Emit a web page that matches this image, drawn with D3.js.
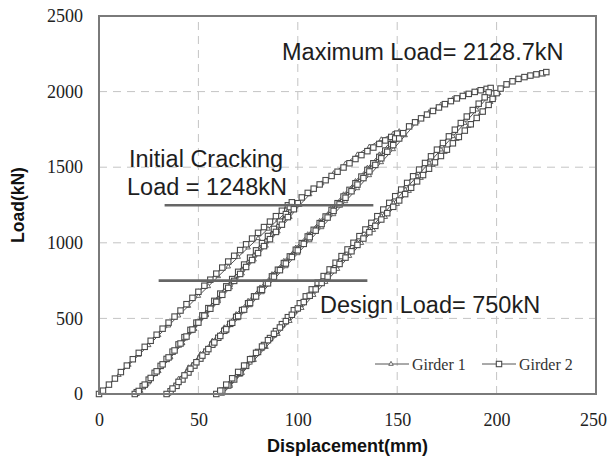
<!DOCTYPE html>
<html>
<head>
<meta charset="utf-8">
<script src="https://cdn.jsdelivr.net/npm/d3@7"></script>
<style>
  body { margin: 0; background: #fff; }
  svg { display: block; }
</style>
</head>
<body>
<script>
/* ---------------------- Data ---------------------- */
var xTicks = [0, 50, 100, 150, 200, 250];
var yTicks = [0, 500, 1000, 1500, 2000, 2500];

// Girder 2 (square markers): [displacement mm, load kN], cyclic loading path
var girder2 = [
  [0,0],[2,22],[5,62],[8,102],[11,145],[14,188],[17,230],[20,272],[23,312],[26,352],[29,392],[32,432],
  [35,472],[38,512],[41,552],[44,594],[47,636],[50,676],[53,716],[56,756],[59,796],[62,836],[65,876],
  [68,914],[71,952],[74,990],[77,1028],[80,1066],[83,1104],[86,1140],[89,1176],[92,1212],[95,1248],[97,1268],
  // unload 1
  [96,1236],[94,1190],[91,1140],[88,1092],[85,1045],[82,998],[79,950],[76,902],[73,856],[70,808],[67,760],
  [64,712],[61,664],[58,616],[55,568],[52,520],[49,472],[46,424],[43,376],[40,328],[37,280],[34,232],
  [31,186],[28,140],[25,95],[22,52],[19,12],[18,0],
  // reload 1
  [20,20],[23,62],[26,106],[29,150],[32,196],[35,242],[38,288],[41,334],[44,380],[47,426],[50,472],[53,518],
  [56,564],[59,610],[62,656],[65,702],[68,748],[71,794],[74,840],[77,886],[80,932],[83,978],[86,1024],
  [89,1072],[92,1120],[95,1170],[98,1222],[100,1262],[102,1300],[105,1330],[108,1358],[111,1386],[114,1414],
  [117,1442],[120,1470],[123,1498],[126,1526],[129,1554],[132,1580],[135,1606],[138,1630],[141,1654],
  [144,1677],[147,1700],[150,1722],
  // unload 2
  [149,1690],[147,1652],[144,1610],[141,1568],[138,1526],[135,1482],[132,1438],[129,1394],[126,1350],
  [123,1306],[120,1262],[117,1218],[114,1174],[111,1130],[108,1086],[105,1042],[102,998],[99,954],[96,910],
  [93,866],[90,822],[87,778],[84,734],[81,690],[78,646],[75,600],[72,555],[69,510],[66,464],[63,418],
  [60,372],[57,326],[54,280],[51,234],[48,188],[45,142],[42,96],[39,54],[36,18],[34,0],
  // reload 2
  [37,36],[40,80],[43,123],[46,167],[49,210],[52,254],[55,297],[58,341],[61,384],[64,428],[67,471],[70,515],
  [73,558],[76,602],[79,645],[82,689],[85,732],[88,776],[91,819],[94,863],[97,906],[100,950],[103,993],
  [106,1037],[109,1080],[112,1124],[115,1167],[118,1211],[121,1254],[124,1298],[127,1341],[130,1385],
  [133,1428],[136,1472],[139,1515],[142,1559],[145,1602],[148,1646],[151,1690],[153,1725],[156,1770],
  [159,1797],[162,1823],[165,1848],[168,1872],[171,1895],[174,1917],[177,1937],[180,1955],[183,1971],
  [186,1985],[189,1998],[192,2009],[195,2018],[197,2024],
  // unload 3
  [196,1995],[194,1962],[191,1920],[188,1878],[185,1835],[182,1792],[179,1748],[176,1704],[173,1660],
  [170,1616],[167,1572],[164,1528],[161,1484],[158,1440],[155,1396],[152,1352],[149,1308],[146,1264],
  [143,1220],[140,1176],[137,1132],[134,1088],[131,1044],[128,1000],[125,956],[122,912],[119,868],[116,824],
  [113,780],[110,736],[107,692],[104,646],[101,600],[98,554],[95,508],[92,462],[89,416],[86,370],[83,324],
  [80,278],[77,232],[74,186],[71,140],[68,96],[65,56],[62,22],[59,0],
  // reload 3 to maximum
  [61,22],[64,62],[67,104],[70,146],[73,188],[76,230],[79,272],[82,314],[85,356],[88,398],[91,440],[94,482],
  [97,524],[100,566],[103,608],[106,650],[109,692],[112,734],[115,776],[118,818],[121,860],[124,902],
  [127,944],[130,986],[133,1028],[136,1070],[139,1112],[142,1154],[145,1196],[148,1238],[151,1280],
  [154,1322],[157,1364],[160,1406],[163,1448],[166,1490],[169,1532],[172,1574],[175,1616],[178,1658],
  [181,1700],[184,1742],[187,1784],[190,1826],[193,1868],[196,1912],[198,1952],[200,1990],[202,2020],
  [205,2048],[208,2068],[211,2084],[214,2096],[217,2106],[220,2114],[223,2121],[225,2129]
];

// Girder 1 (triangle markers)
var girder1 = [
  [0,0],[5,60],[10,125],[15,192],[20,258],[25,322],[30,388],[35,452],[40,518],[45,582],[50,648],[55,712],
  [60,778],[65,842],[70,906],[75,968],[80,1030],[85,1092],[90,1152],[95,1212],[99,1258],
  [96,1210],[90,1112],[84,1014],[78,916],[72,818],[66,720],[60,622],[54,526],[48,430],[42,334],[36,240],
  [30,150],[25,76],[21,20],[19,0],
  [24,62],[30,152],[36,244],[42,336],[48,428],[54,520],[60,612],[66,704],[72,796],[78,888],[84,980],
  [90,1074],[96,1170],[101,1250],[106,1320],[112,1392],[118,1460],[124,1524],[130,1584],[136,1636],
  [142,1684],[148,1722],[151,1738],
  [147,1672],[141,1584],[135,1496],[129,1408],[123,1320],[117,1232],[111,1144],[105,1056],[99,968],
  [93,880],[87,792],[81,704],[75,616],[69,528],[63,440],[57,352],[51,264],[45,176],[40,100],[36,34],[35,0],
  [40,70],[46,156],[52,242],[58,328],[64,414],[70,500],[76,586],[82,672],[88,758],[94,844],[100,930],
  [106,1016],[112,1102],[118,1188],[124,1274],[130,1360],[136,1446],[142,1532],[148,1618],[154,1710],
  [160,1800],[166,1864],[172,1914],[178,1952],[184,1982],[190,2004],[197,2020],
  [196,1970],[190,1880],[184,1792],[178,1704],[172,1616],[166,1528],[160,1440],[154,1352],[148,1264],
  [142,1176],[136,1088],[130,1000],[124,912],[118,824],[112,736],[106,648],[100,560],[94,472],[88,384],
  [82,296],[76,206],[71,126],[66,60],[62,0],
  [66,52],[72,138],[78,224],[84,310],[90,396],[96,482],[102,568],[108,654],[114,740],[120,826],[126,912],
  [132,998],[138,1084],[144,1170],[150,1256],[156,1342],[162,1428],[168,1514],[174,1600],[180,1686],
  [186,1772],[192,1858],[197,1930],[201,1990],[205,2040],[210,2076],[216,2100],[222,2116],[225,2122]
];

// Reference load lines: [load, from displacement, to displacement]
var crackingLine = [1248, 33, 138];
var designLine = [750, 30, 135];

/* ---------------------- Layout ---------------------- */
var width = 608, height = 468;
var margin = {top: 16, right: 12, bottom: 74, left: 99};
var serif = "'Liberation Serif', 'Times New Roman', serif";
var sans = "'Liberation Sans', Arial, sans-serif";

var svg = d3.select("body").append("svg")
    .attr("width", width)
    .attr("height", height);

var xScale = d3.scaleLinear().domain([0, 250]).range([margin.left, width - margin.right]);
var yScale = d3.scaleLinear().domain([0, 2500]).range([height - margin.bottom, margin.top]);

// Grid
svg.append("g").selectAll("line.vgrid")
    .data(xTicks.slice(1, -1))
    .enter().append("line")
    .attr("x1", d => xScale(d)).attr("x2", d => xScale(d))
    .attr("y1", yScale(0)).attr("y2", yScale(2500))
    .attr("stroke", "#c4c4c4").attr("stroke-dasharray", "8,6");

svg.append("g").selectAll("line.hgrid")
    .data(yTicks.slice(1, -1))
    .enter().append("line")
    .attr("y1", d => yScale(d)).attr("y2", d => yScale(d))
    .attr("x1", xScale(0)).attr("x2", xScale(250))
    .attr("stroke", "#c4c4c4").attr("stroke-dasharray", "8,6");

// Axes (labels only)
var xAxis = svg.append("g")
    .attr("transform", `translate(0, ${yScale(0)})`)
    .call(d3.axisBottom(xScale).tickValues(xTicks).tickFormat(d3.format("d")).tickSize(0).tickPadding(19));
var yAxis = svg.append("g")
    .attr("transform", `translate(${xScale(0)}, 0)`)
    .call(d3.axisLeft(yScale).tickValues(yTicks).tickFormat(d3.format("d")).tickSize(0).tickPadding(16));

[xAxis, yAxis].forEach(a => {
    a.attr("font-family", null).attr("font-size", null);
    a.select(".domain").remove();
    a.selectAll("text")
        .style("font-family", serif)
        .style("font-size", "18px")
        .attr("fill", "#222");
});
// last x label sits at the window edge
xAxis.selectAll(".tick text").filter(d => d === 250).attr("dx", -3);

// Series
var line = d3.line()
    .x(d => xScale(d[0]))
    .y(d => yScale(d[1]));

svg.append("path")
    .datum(girder1)
    .attr("d", line)
    .attr("fill", "none")
    .attr("stroke", "#555")
    .attr("stroke-width", 1);

svg.append("path")
    .datum(girder2)
    .attr("d", line)
    .attr("fill", "none")
    .attr("stroke", "#444")
    .attr("stroke-width", 1.2);

var triangle = d3.symbol().type(d3.symbolTriangle).size(9);

svg.append("g").selectAll("path")
    .data(girder1)
    .enter().append("path")
    .attr("d", triangle)
    .attr("transform", d => `translate(${xScale(d[0])}, ${yScale(d[1])})`)
    .attr("fill", "#fff")
    .attr("stroke", "#555")
    .attr("stroke-width", 0.9);

svg.append("g").selectAll("rect")
    .data(girder2)
    .enter().append("rect")
    .attr("x", d => xScale(d[0]) - 2.7)
    .attr("y", d => yScale(d[1]) - 2.7)
    .attr("width", 5.4)
    .attr("height", 5.4)
    .attr("fill", "#fff")
    .attr("stroke", "#4a4a4a")
    .attr("stroke-width", 1.1);

// Plot frame
svg.append("rect")
    .attr("x", xScale(0)).attr("y", yScale(2500))
    .attr("width", xScale(250) - xScale(0))
    .attr("height", yScale(0) - yScale(2500))
    .attr("fill", "none")
    .attr("stroke", "#7a7a7a")
    .attr("stroke-width", 2);

// Reference load lines
svg.append("g").selectAll("line")
    .data([crackingLine, designLine])
    .enter().append("line")
    .attr("x1", d => xScale(d[1])).attr("x2", d => xScale(d[2]))
    .attr("y1", d => yScale(d[0])).attr("y2", d => yScale(d[0]))
    .attr("stroke", "#666")
    .attr("stroke-width", 2.6);

// Annotations
var notes = [
    {text: "Maximum Load= 2128.7kN", x: 282, y: 60},
    {text: "Initial Cracking", x: 129, y: 167},
    {text: "Load = 1248kN", x: 127, y: 195},
    {text: "Design Load= 750kN", x: 320, y: 313}
];
svg.append("g").selectAll("text")
    .data(notes)
    .enter().append("text")
    .attr("x", d => d.x).attr("y", d => d.y)
    .attr("font-family", sans)
    .attr("font-size", 23.5)
    .attr("fill", "#1e1e1e")
    .text(d => d.text);

// Axis titles
svg.append("text")
    .attr("x", (xScale(0) + xScale(250)) / 2)
    .attr("y", 452)
    .attr("text-anchor", "middle")
    .attr("font-family", sans)
    .attr("font-weight", "bold")
    .attr("font-size", 18)
    .attr("fill", "#111")
    .text("Displacement(mm)");

svg.append("text")
    .attr("transform", `translate(24, ${(yScale(0) + yScale(2500)) / 2}) rotate(-90)`)
    .attr("text-anchor", "middle")
    .attr("font-family", sans)
    .attr("font-weight", "bold")
    .attr("font-size", 17.5)
    .attr("fill", "#111")
    .text("Load(kN)");

// Legend
var legend = svg.append("g");
var legendItems = [
    {name: "Girder 1", x: 375, marker: "tri"},
    {name: "Girder 2", x: 482, marker: "sq"}
];
var ly = 364;
legendItems.forEach(it => {
    legend.append("line")
        .attr("x1", it.x).attr("x2", it.x + 34)
        .attr("y1", ly).attr("y2", ly)
        .attr("stroke", "#555").attr("stroke-width", 1);
    if (it.marker === "tri") {
        legend.append("path")
            .attr("d", triangle)
            .attr("transform", `translate(${it.x + 16}, ${ly})`)
            .attr("fill", "#fff").attr("stroke", "#555").attr("stroke-width", 0.9);
    } else {
        legend.append("rect")
            .attr("x", it.x + 17 - 2.7).attr("y", ly - 2.7)
            .attr("width", 5.4).attr("height", 5.4)
            .attr("fill", "#fff").attr("stroke", "#4a4a4a").attr("stroke-width", 1.1);
    }
    legend.append("text")
        .attr("x", it.x + 37).attr("y", ly + 6)
        .attr("font-family", serif)
        .attr("font-size", 16)
        .attr("fill", "#333")
        .text(it.name);
});
</script>
</body>
</html>
